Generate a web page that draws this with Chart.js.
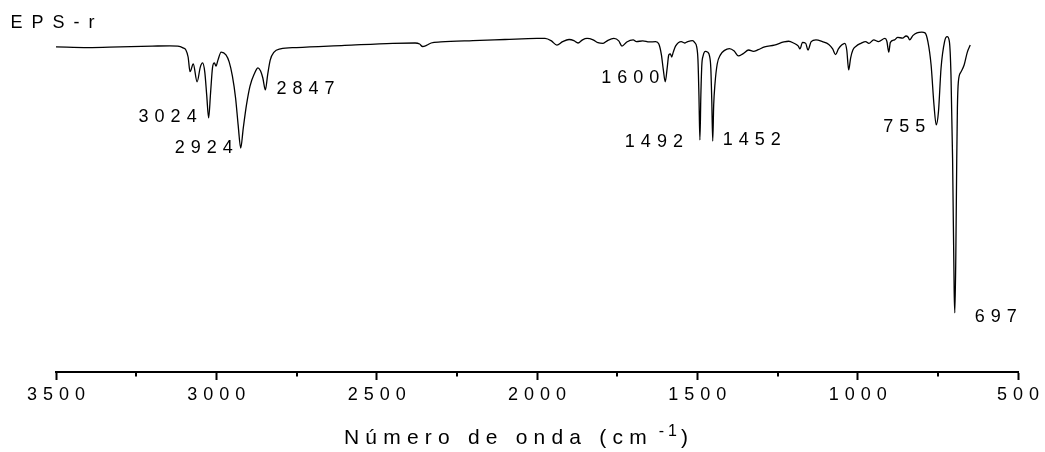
<!DOCTYPE html>
<html>
<head>
<meta charset="utf-8">
<script src="https://cdn.jsdelivr.net/npm/chart.js@4.4.1/dist/chart.umd.min.js"></script>
<style>
  html, body { margin: 0; padding: 0; background: #fff; }
  #wrap { width: 1045px; height: 452px; position: relative; }
</style>
</head>
<body>
<div id="wrap"><canvas id="c"></canvas></div>
<script>
// FTIR spectrum of EPS-r: wavenumber (cm-1) and transmittance (%)
const wavenumbers = [
  3500, 3400, 3300, 3200, 3145, 3120, 3104, 3095, 3088, 3082, 3072, 3060, 3050, 3043, 3036,
  3030, 3024, 3018, 3012, 3006, 3001, 2995, 2985, 2970, 2960, 2950, 2940, 2932, 2924, 2916,
  2906, 2895, 2882, 2870, 2862, 2855, 2847, 2840, 2832, 2820, 2800, 2750, 2600, 2450, 2380,
  2366, 2357, 2345, 2330, 2300, 2200, 2100, 2000, 1975, 1955, 1938, 1920, 1900, 1885, 1872,
  1858, 1844, 1825, 1810, 1794, 1780, 1760, 1745, 1735, 1720, 1700, 1690, 1670, 1650, 1630,
  1620, 1612, 1606, 1600, 1594, 1589, 1584, 1580, 1575, 1568, 1550, 1540, 1530, 1515, 1508,
  1502, 1498, 1495, 1492, 1489, 1486, 1482, 1475, 1468, 1462, 1458, 1455, 1452, 1449, 1445,
  1438, 1428, 1415, 1400, 1385, 1372, 1358, 1340, 1325, 1310, 1290, 1260, 1230, 1215, 1200,
  1185, 1180, 1172, 1162, 1155, 1145, 1130, 1110, 1090, 1078, 1069, 1060, 1050, 1040, 1034,
  1028, 1022, 1015, 1005, 990, 975, 965, 950, 935, 915, 909, 903, 898, 885, 875,
  860, 849, 843, 838, 828, 815, 800, 790, 781, 771, 762, 755, 748, 740, 729,
  721, 714, 709, 704, 699, 697, 694, 691, 689, 686, 678, 668, 658, 649
];
const transmittance = [
  92.9, 92.7, 92.9, 93.1, 93.2, 93.1, 92.6, 92.0, 90.0, 85.8, 88.0, 82.9, 87.1, 88.3, 85.7,
  79.1, 72.6, 79.7, 86.9, 88.3, 87.4, 89.1, 91.4, 90.6, 88.6, 84.6, 78.3, 70.6, 64.0, 69.7,
  76.3, 81.7, 85.1, 86.9, 86.0, 84.0, 80.6, 84.9, 89.1, 91.4, 92.3, 92.7, 93.3, 93.9, 94.0,
  93.7, 93.0, 93.3, 94.0, 94.3, 94.7, 95.0, 95.3, 95.3, 94.6, 93.4, 94.4, 95.0, 94.7, 94.0,
  94.9, 95.3, 94.9, 94.1, 93.9, 94.7, 95.3, 94.6, 93.1, 94.3, 94.9, 94.4, 94.6, 94.3, 94.4,
  93.7, 90.6, 86.3, 82.9, 86.9, 90.6, 90.9, 90.0, 91.4, 93.1, 94.4, 94.0, 94.4, 94.7, 94.1,
  92.9, 89.1, 79.1, 66.3, 79.1, 87.7, 90.3, 91.6, 91.4, 90.3, 86.9, 77.7, 66.0, 76.3, 82.3,
  88.0, 90.6, 91.9, 92.4, 91.7, 90.3, 90.9, 92.0, 91.6, 92.1, 92.9, 93.4, 94.3, 94.5, 94.0,
  93.1, 92.3, 94.2, 93.9, 92.0, 94.4, 94.9, 94.4, 93.6, 92.3, 90.7, 92.3, 93.4, 93.9, 92.0,
  86.3, 89.7, 92.0, 93.1, 93.9, 94.4, 93.9, 94.9, 94.4, 95.3, 94.5, 91.4, 94.2, 94.9, 95.6,
  95.4, 96.0, 95.7, 94.9, 96.1, 96.9, 97.1, 96.9, 94.4, 87.7, 76.3, 70.6, 74.4, 86.8, 94.4,
  95.8, 94.4, 84.9, 61.1, 22.9, 16.9, 32.6, 61.1, 75.4, 82.9, 85.7, 87.7, 91.4, 93.4
];
// Labelled absorption bands (cm-1)
const peakBands = [3024, 2924, 2847, 1600, 1492, 1452, 755, 697];
// Axis range and tick step (cm-1)
const axisRange = [500, 3500];
const majorStep = 500;
const minorStep = 250;
const seriesName = 'EPS-r';

// Placement of each band label relative to its minimum (px)
const bandLabelPlacement = {
  3024: { align: 'right', dx: -12, dy: 4 },
  2924: { align: 'right', dx: -8, dy: 5 },
  2847: { align: 'left', dx: 11, dy: 4 },
  1600: { align: 'right', dx: -6, dy: 1 },
  1492: { align: 'right', dx: -17, dy: 7 },
  1452: { align: 'left', dx: 10, dy: 4 },
  755:  { align: 'right', dx: -11, dy: 7 },
  697:  { align: 'left', dx: 20, dy: 9 }
};

const FONT = '"Liberation Sans", Arial, Helvetica, sans-serif';

function spacedWidth(ctx, text, spacing) {
  const chars = Array.from(text);
  let w = 0;
  for (const ch of chars) w += ctx.measureText(ch).width;
  return w + spacing * (chars.length - 1);
}
function drawSpaced(ctx, text, x, y, spacing, align) {
  const total = spacedWidth(ctx, text, spacing);
  let cx = align === 'right' ? x - total : align === 'center' ? x - total / 2 : x;
  ctx.textAlign = 'left';
  for (const ch of Array.from(text)) {
    ctx.fillText(ch, cx, y);
    cx += ctx.measureText(ch).width + spacing;
  }
  return cx - spacing;
}

const textPlugin = {
  id: 'spectrumText',
  beforeDraw(chart) {
    // spaced-out tick labels
    chart.ctx.letterSpacing = '6px';
  },
  afterDraw(chart) {
    const ctx = chart.ctx;
    const xs = chart.scales.x, ys = chart.scales.y;
    ctx.save();
    ctx.letterSpacing = '0px';
    ctx.fillStyle = '#000';
    ctx.strokeStyle = '#000';
    ctx.textBaseline = 'alphabetic';

    // minor ticks
    ctx.lineWidth = 2;
    const base = chart.chartArea.bottom;
    for (let v = axisRange[0]; v <= axisRange[1]; v += minorStep) {
      if (v % majorStep === 0) continue;
      const px = Math.round(xs.getPixelForValue(v));
      ctx.beginPath();
      ctx.moveTo(px, base);
      ctx.lineTo(px, base + 4.5);
      ctx.stroke();
    }

    // band labels
    ctx.font = '18px ' + FONT;
    peakBands.forEach(b => {
      const i = wavenumbers.indexOf(b);
      const p = bandLabelPlacement[b];
      const px = xs.getPixelForValue(b);
      const py = ys.getPixelForValue(transmittance[i]);
      drawSpaced(ctx, String(b), px + p.dx, py + p.dy, 6, p.align);
    });

    // series name
    ctx.font = '18px ' + FONT;
    drawSpaced(ctx, seriesName, 10.5, 28, 9, 'left');

    // axis title with superscript
    ctx.font = '21px ' + FONT;
    let end = drawSpaced(ctx, 'Número de onda (cm', 344, 444, 6.2, 'left');
    ctx.font = '16px ' + FONT;
    end = drawSpaced(ctx, '-1', end + 12, 436, 4, 'left');
    ctx.font = '21px ' + FONT;
    drawSpaced(ctx, ')', end + 4, 444, 0, 'left');
    ctx.restore();
  }
};

new Chart(document.getElementById('c'), {
  type: 'line',
  data: {
    datasets: [{
      label: seriesName,
      data: wavenumbers.map((w, i) => ({ x: w, y: transmittance[i] })),
      borderColor: '#000',
      borderWidth: 1.3,
      pointRadius: 0,
      fill: false,
      cubicInterpolationMode: 'monotone'
    }]
  },
  options: {
    responsive: true,
    maintainAspectRatio: false,
    animation: false,
    layout: { padding: { top: 22, left: 56, right: 27, bottom: 0 } },
    plugins: { legend: { display: false }, title: { display: false }, tooltip: { enabled: false } },
    scales: {
      x: {
        type: 'linear',
        reverse: true,
        min: axisRange[0],
        max: axisRange[1],
        afterFit: s => { s.height = 80; },
        border: { display: true, color: '#000', width: 2 },
        grid: {
          display: true,
          drawOnChartArea: false,
          drawTicks: true,
          tickLength: 8,
          tickWidth: 2,
          tickColor: c => (c.tick && c.tick.value % majorStep === 0) ? '#000' : 'rgba(0,0,0,0)'
        },
        ticks: {
          stepSize: minorStep,
          autoSkip: false,
          maxRotation: 0,
          padding: 4,
          labelOffset: 3,
          color: '#000',
          font: { family: FONT, size: 18 },
          callback: v => (v % majorStep === 0 ? String(v) : '')
        }
      },
      y: { display: false, min: 0, max: 100 }
    }
  },
  plugins: [textPlugin]
});
</script>
</body>
</html>
